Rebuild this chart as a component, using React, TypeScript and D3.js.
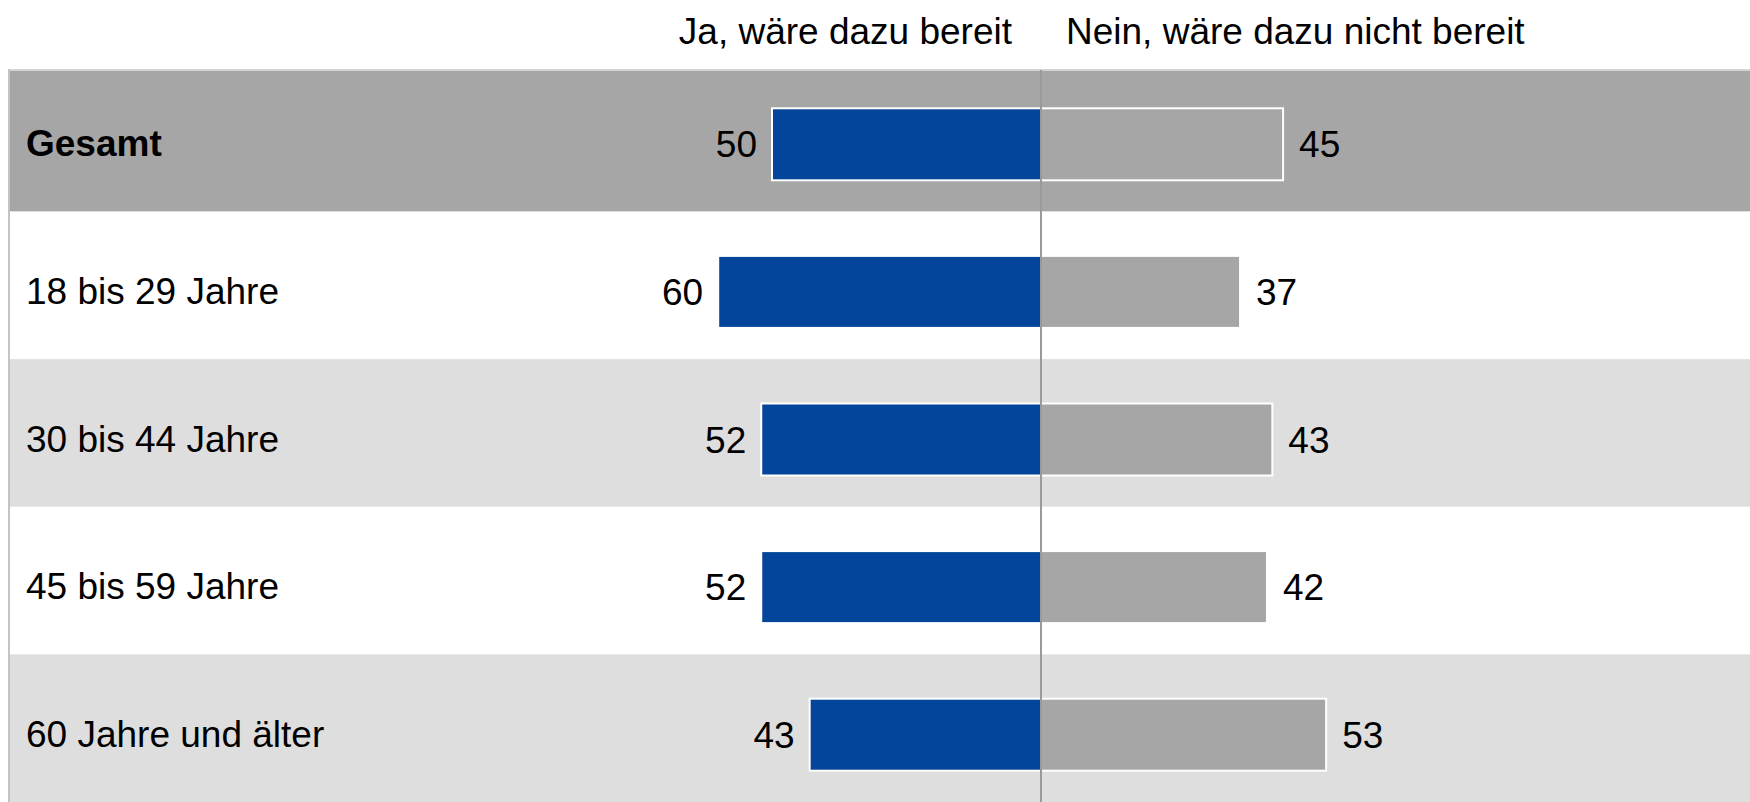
import React from "react";
import * as d3 from "d3";

const categories = ["Gesamt", "18 bis 29 Jahre", "30 bis 44 Jahre", "45 bis 59 Jahre", "60 Jahre und älter"];
const yesValues = [50, 60, 52, 52, 43];
const noValues = [45, 37, 43, 42, 53];
const seriesLabels = ["Ja, wäre dazu bereit", "Nein, wäre dazu nicht bereit"];
const rowFills = ["#a6a6a6", "#ffffff", "#dedede", "#ffffff", "#dedede"];

const W = 1750;
const H = 802;
const CX = 1041;
const TOP = 70;
const FONT = "'Liberation Sans', Arial, sans-serif";

export default function App() {
  const y = d3.scaleBand<string>().domain(categories).range([64, H]).paddingInner(0).paddingOuter(0);
  const xLen = d3.scaleLinear().domain([0, 100]).range([0, 538]);
  const barH = 72;
  const fs = 37;

  return (
    <svg width={W} height={H} style={{ position: "absolute", left: 0, top: 0, background: "#fff" }}>
      {categories.map((c, i) => {
        const y0 = Math.max(TOP, y(c)!);
        const y1 = y(c)! + y.bandwidth();
        return <rect key={"bg" + c} x={9} y={y0} width={W - 9} height={y1 - y0} fill={rowFills[i]} />;
      })}
      <line x1={9} x2={W} y1={TOP} y2={TOP} stroke="#d4d4d4" strokeWidth={2} />
      <line x1={9} x2={9} y1={TOP - 1} y2={H} stroke="#c4c4c4" strokeWidth={2} />
      <text x={CX - 29} y={44} textAnchor="end" fontFamily={FONT} fontSize={fs} fill="#000">{seriesLabels[0]}</text>
      <text x={CX + 25} y={44} textAnchor="start" fontFamily={FONT} fontSize={fs} fill="#000">{seriesLabels[1]}</text>
      {categories.map((c, i) => {
        const cy = y(c)! + y.bandwidth() / 2 + 6.5;
        const yw = xLen(yesValues[i]);
        const nw = xLen(noValues[i]);
        return (
          <g key={c}>
            <text x={26} y={cy + 12} fontFamily={FONT} fontSize={fs} fontWeight={i === 0 ? "bold" : "normal"} fill="#000">{c}</text>
            <rect x={CX - yw} y={cy - barH / 2} width={yw} height={barH} fill="#03459a" stroke="#ffffff" strokeWidth={2} />
            <rect x={CX} y={cy - barH / 2} width={nw} height={barH} fill="#a6a6a6" stroke="#ffffff" strokeWidth={2} />
            <text x={CX - yw - 15} y={cy + 13} textAnchor="end" fontFamily={FONT} fontSize={fs} fill="#000">{yesValues[i]}</text>
            <text x={CX + nw + 16} y={cy + 13} textAnchor="start" fontFamily={FONT} fontSize={fs} fill="#000">{noValues[i]}</text>
          </g>
        );
      })}
      <line x1={CX} x2={CX} y1={TOP} y2={H} stroke="#9a9a9a" strokeWidth={2} />
    </svg>
  );
}
